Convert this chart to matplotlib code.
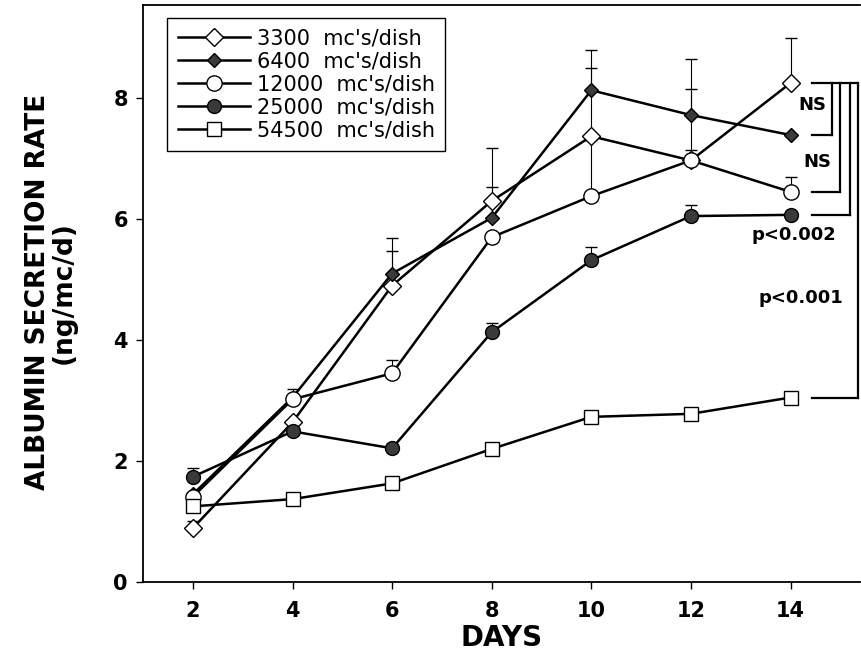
import numpy as np
import matplotlib
matplotlib.use("Agg")
import matplotlib.pyplot as plt

plt.rcParams['font.family'] = ['DejaVu Sans']

days = [2, 4, 6, 8, 10, 12, 14]

# mean albumin secretion rate (ng/mc/d) per seeding density
r3300 = [0.89, 2.64, 4.90, 6.30, 7.37, 6.97, 8.25]
r6400 = [1.45, 3.05, 5.10, 6.02, 8.13, 7.72, 7.39]
r12000 = [1.41, 3.02, 3.45, 5.70, 6.38, 6.97, 6.45]
r25000 = [1.74, 2.49, 2.21, 4.13, 5.32, 6.05, 6.07]
r54500 = [1.25, 1.37, 1.63, 2.20, 2.73, 2.78, 3.05]

# upper end of the error bar (nan = not drawn)
nan = np.nan
e3300 = [1.00, nan, 5.47, 7.17, 8.50, 8.15, 8.99]
e6400 = [nan, nan, 5.68, 6.53, 8.80, 8.65, nan]
e12000 = [nan, 3.19, 3.67, nan, 7.30, 7.14, 6.70]
e25000 = [1.88, nan, nan, 4.28, 5.54, 6.23, nan]
e54500 = [nan] * 7

labels = ["3300  mc's/dish", "6400  mc's/dish", "12000  mc's/dish",
          "25000  mc's/dish", "54500  mc's/dish"]
sig_labels = ["NS", "NS", "p<0.002", "p<0.001"]

series = [r3300, r6400, r12000, r25000, r54500]
errs = [e3300, e6400, e12000, e25000, e54500]
styles = [
    dict(marker='D', ms=9.5, mfc='white'),
    dict(marker='D', ms=7.5, mfc='#3a3a3a'),
    dict(marker='o', ms=11, mfc='white'),
    dict(marker='o', ms=10, mfc='#3a3a3a'),
    dict(marker='s', ms=10, mfc='white'),
]

fig = plt.figure(figsize=(8.62, 6.57), dpi=100)
ax = fig.add_axes([0.166, 0.1142, 0.832, 0.8782])

x = np.array(days, dtype=float)
for vals, top, st, lab in zip(series, errs, styles, labels):
    vals = np.array(vals)
    top = np.array(top)
    m = ~np.isnan(top)
    if m.any():
        ax.errorbar(x[m], vals[m], yerr=[np.zeros(m.sum()), top[m] - vals[m]],
                    fmt='none', ecolor='black', elinewidth=0.8, capsize=4,
                    capthick=1.0, zorder=1)
    ax.plot(x, vals, color='black', lw=1.8, mec='black', mew=1.0,
            label=lab, zorder=3, **st)

# significance brackets against the 3300 series at day 14
top_y = r3300[-1]
x0 = 14.43
bx = [14.83, 14.99, 15.19, 15.35]
ends = [r6400[-1], r12000[-1], r25000[-1], r54500[-1]]
ax.plot([x0, bx[-1]], [top_y, top_y], color='black', lw=1.6, clip_on=False)
for xb, yb in zip(bx, ends):
    ax.plot([xb, xb], [top_y, yb], color='black', lw=1.6, clip_on=False)
    ax.plot([x0, xb], [yb, yb], color='black', lw=1.6, clip_on=False)

txt_pos = [(14.44, 7.88), (14.53, 6.94), (14.07, 5.74), (14.2, 4.69)]
for (tx, ty), t in zip(txt_pos, sig_labels):
    ax.text(tx, ty, t, ha='center', va='center', fontsize=13,
            fontweight='bold')

ax.set_xlim(1, 15.4)
ax.set_ylim(0, 9.54)
ax.set_xticks([2, 4, 6, 8, 10, 12, 14])
ax.set_yticks([0, 2, 4, 6, 8])
ax.tick_params(direction='out', length=5, width=1, labelsize=15)
ax.tick_params(axis='x', pad=9)
ax.tick_params(axis='y', pad=6)
for t in ax.get_xticklabels() + ax.get_yticklabels():
    t.set_fontweight('bold')
ax.spines['right'].set_visible(False)
for s in ['left', 'bottom', 'top']:
    ax.spines[s].set_linewidth(1.3)

ax.set_xlabel("DAYS", fontsize=20, fontweight='bold', labelpad=2)
fig.text(0.044, 0.555, "ALBUMIN SECRETION RATE", rotation=90, ha='center',
         va='center', fontsize=19, fontweight='bold')
fig.text(0.074, 0.555, "(ng/mc/d)", rotation=90, ha='center', va='center',
         fontsize=19, fontweight='bold')

leg = ax.legend(loc='upper left', bbox_to_anchor=(0.0335, 0.978),
                borderaxespad=0, fontsize=15, handlelength=3.5,
                labelspacing=0.15, fancybox=False, edgecolor='black',
                framealpha=1, handletextpad=0.3, borderpad=0.5)
leg.get_frame().set_linewidth(1.0)

fig.savefig("out.png", dpi=100)
